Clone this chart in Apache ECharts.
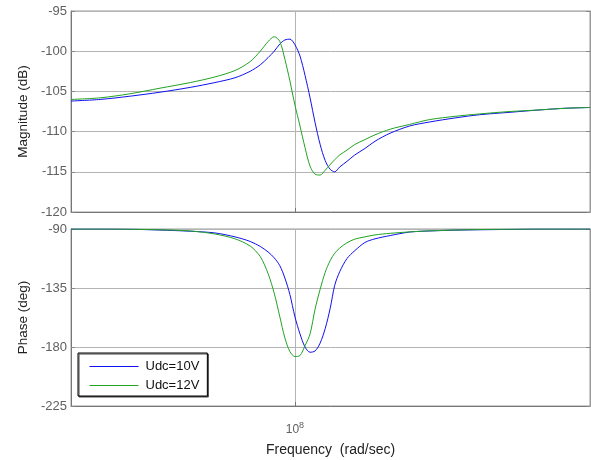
<!DOCTYPE html>
<html>
<head>
<meta charset="utf-8">
<script src="https://cdn.jsdelivr.net/npm/echarts@6/dist/echarts.min.js"></script>
<style>
  html, body { margin: 0; padding: 0; background: #fff; }
  #chart { width: 591px; height: 460px; }
</style>
</head>
<body>
<div id="chart"></div>
<script>
// log10 of frequency (rad/sec)
const logW = [7.600, 7.652, 7.705, 7.759, 7.813, 7.857, 7.893, 7.920, 7.938, 7.952,
  7.963, 7.973, 7.982, 7.991, 8.000, 8.009, 8.018, 8.027, 8.036, 8.045,
  8.054, 8.063, 8.071, 8.080, 8.093, 8.107, 8.125, 8.143, 8.170, 8.205,
  8.241, 8.286, 8.330, 8.384, 8.438, 8.482, 8.527];

// magnitude (dB)
const magUdc10 = [-106.2, -106.0, -105.6, -105.1, -104.5, -103.9, -103.3, -102.5, -101.7, -100.8,
  -100.0, -99.1, -98.6, -98.5, -99.2, -100.6, -103.0, -105.8, -108.9, -111.6,
  -113.6, -114.7, -115.0, -114.4, -113.7, -112.9, -112.1, -111.2, -110.2, -109.3,
  -108.8, -108.3, -107.9, -107.6, -107.3, -107.1, -107.0];
const magUdc12 = [-106.0, -105.8, -105.3, -104.6, -103.9, -103.2, -102.4, -101.3, -100.0, -98.8,
  -98.2, -98.8, -101.0, -103.7, -106.7, -109.3, -112.0, -114.3, -115.3, -115.4,
  -114.8, -114.1, -113.5, -112.9, -112.3, -111.6, -111.0, -110.4, -109.7, -109.1,
  -108.5, -108.1, -107.8, -107.5, -107.3, -107.1, -107.0];

// phase (deg)
const phaseUdc10 = [-90.0, -90.0, -90.2, -90.8, -91.7, -93.0, -96.0, -99.5, -103.3, -107.5,
  -112.0, -118.0, -127.4, -140.0, -157.0, -170.0, -180.0, -184.0, -183.0, -177.0,
  -166.0, -150.4, -133.0, -122.5, -112.5, -106.5, -100.3, -97.5, -95.0, -92.3,
  -91.5, -90.9, -90.6, -90.3, -90.0, -90.0, -90.0];
const phaseUdc12 = [-90.0, -90.0, -90.2, -90.6, -91.5, -93.8, -97.5, -103.0, -111.0, -124.0,
  -139.0, -157.0, -173.0, -183.5, -187.3, -186.5, -179.0, -170.0, -151.0, -136.0,
  -123.0, -114.0, -108.5, -104.5, -100.5, -97.7, -96.0, -94.5, -93.3, -92.2,
  -91.4, -90.8, -90.4, -90.2, -90.0, -90.0, -90.0];

const seriesNames = ['Udc=10V', 'Udc=12V'];
const decadeTicks = [8];
const magTicks = { min: -120, max: -95, interval: 5 };
const phaseTicks = { min: -225, max: -90, interval: 45 };

const colors = ['#1010ee', '#22a322'];
const labelColor = '#606060';
const gridColor = '#b4b4b4';
const font = 'Liberation Sans';

function pairs(ys) {
  return logW.map((w, i) => [w, ys[i]]);
}

function xAxisFor(gridIndex, showLabel) {
  return {
    type: 'value',
    gridIndex: gridIndex,
    min: 7.6,
    max: 8.527,
    axisLine: { show: true, onZero: false, lineStyle: { color: '#777' } },
    axisTick: { show: true, inside: true, length: 4, customValues: decadeTicks, lineStyle: { color: '#777' } },
    splitLine: { show: true, lineStyle: { color: gridColor, width: 1 } },
    axisLabel: {
      show: showLabel,
      customValues: decadeTicks,
      margin: 15,
      color: labelColor,
      fontFamily: font,
      fontSize: 12,
      formatter: function (v) { return '10{sup|' + v + '}'; },
      rich: { sup: { fontSize: 9, fontFamily: font, color: labelColor, padding: [0, 0, 8, 0] } }
    },
    name: showLabel ? 'Frequency  (rad/sec)' : '',
    nameLocation: 'middle',
    nameGap: 37,
    nameTextStyle: { color: '#222', fontFamily: font, fontSize: 14 }
  };
}

function yAxisFor(gridIndex, ticks, name, right) {
  return {
    type: 'value',
    gridIndex: gridIndex,
    position: right ? 'right' : 'left',
    min: ticks.min,
    max: ticks.max,
    interval: ticks.interval,
    axisLine: { show: true, lineStyle: { color: right ? '#999' : '#777' } },
    axisTick: { show: true, inside: true, length: 4, lineStyle: { color: '#888' } },
    splitLine: { show: !right, lineStyle: { color: gridColor, width: 1 } },
    axisLabel: {
      show: !right,
      color: labelColor,
      fontFamily: font,
      fontSize: 13,
      margin: 4
    },
    name: right ? '' : name,
    nameLocation: 'middle',
    nameGap: 40,
    nameTextStyle: { color: '#222', fontFamily: font, fontSize: 13.5 }
  };
}

function lineSeries(name, xi, yi, data, color) {
  return {
    name: name,
    type: 'line',
    xAxisIndex: xi,
    yAxisIndex: yi,
    data: data,
    smooth: 0.3,
    showSymbol: false,
    symbol: 'none',
    lineStyle: { color: color, width: 1 },
    itemStyle: { color: color }
  };
}

const chart = echarts.init(document.getElementById('chart'), null, { renderer: 'canvas' });

chart.setOption({
  animation: false,
  backgroundColor: '#fff',
  grid: [
    { left: 71, top: 11, width: 519, height: 201, show: true, borderColor: '#999', borderWidth: 1 },
    { left: 71, top: 229, width: 519, height: 177, show: true, borderColor: '#999', borderWidth: 1 }
  ],
  xAxis: [xAxisFor(0, false), xAxisFor(1, true)],
  yAxis: [
    yAxisFor(0, magTicks, 'Magnitude (dB)', false),
    yAxisFor(1, phaseTicks, 'Phase (deg)', false),
    yAxisFor(0, magTicks, '', true),
    yAxisFor(1, phaseTicks, '', true)
  ],
  legend: {
    data: seriesNames,
    orient: 'vertical',
    left: 78,
    top: 353,
    itemWidth: 49,
    itemHeight: 14,
    itemGap: 6,
    padding: [7, 8, 4, 11],
    backgroundColor: '#fff',
    borderColor: '#000',
    borderWidth: 1,
    borderRadius: 0,
    shadowColor: '#444',
    shadowOffsetX: 1,
    shadowOffsetY: 1,
    shadowBlur: 0,
    itemStyle: { opacity: 0 },
    lineStyle: { width: 1 },
    textStyle: { color: '#111', fontFamily: font, fontSize: 13, padding: [0, 0, 0, 2] }
  },
  series: [
    lineSeries(seriesNames[0], 0, 0, pairs(magUdc10), colors[0]),
    lineSeries(seriesNames[1], 0, 0, pairs(magUdc12), colors[1]),
    lineSeries(seriesNames[0], 1, 1, pairs(phaseUdc10), colors[0]),
    lineSeries(seriesNames[1], 1, 1, pairs(phaseUdc12), colors[1])
  ]
});
</script>
</body>
</html>
